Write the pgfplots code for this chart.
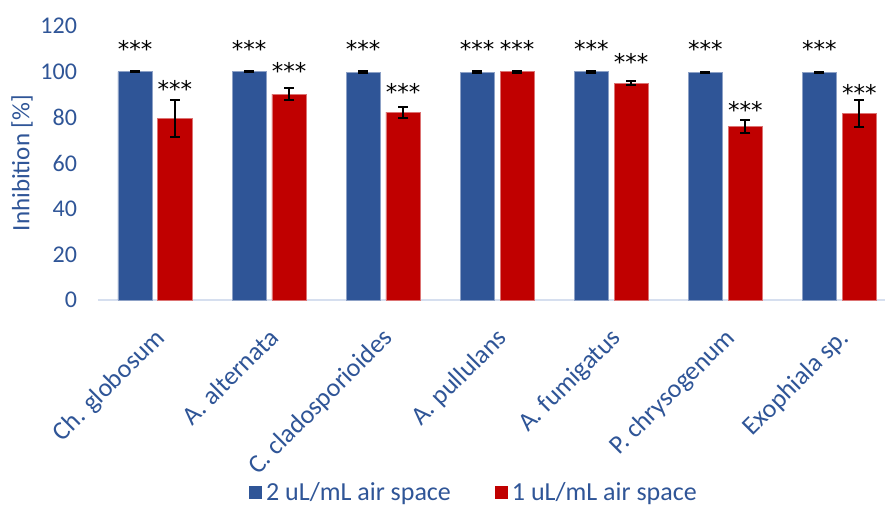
\documentclass[border=0pt]{standalone}
\usepackage{pgfplots}
\pgfplotsset{compat=1.18}
\usepackage{fontspec}
\setmainfont{Carlito}
\newfontfamily\starfont{DejaVu Sans}
\definecolor{myblue}{HTML}{2F5597}
\definecolor{myred}{HTML}{C00000}
\definecolor{axline}{HTML}{D6DFEF}
\begin{document}
\begin{tikzpicture}
\begin{axis}[
  name=ax,
  scale only axis,
  width=393.5pt, height=137pt,
  xmin=-0.5, xmax=6.4,
  ymin=0, ymax=120,
  ytick={0,20,...,120},
  xtick={0,...,6},
  xticklabels={Ch. globosum, A. alternata, C. cladosporioides, A. pullulans, A. fumigatus, P. chrysogenum, Exophiala sp.},
  xticklabel style={font=\fontsize{13}{13}\selectfont, text=myblue, inner sep=0pt, xshift=-1pt, yshift=-13pt, rotate=45, anchor=north east},
  yticklabel style={font=\fontsize{12}{12}\selectfont, text=myblue, xshift=-7pt},
  /pgf/number format/assume math mode=true,
  major tick length=0pt,
  axis x line*=bottom, axis y line*=left,
  y axis line style={draw=none},
  x axis line style={draw=axline, line width=1pt},
  ylabel={Inhibition [\%]},
  every axis y label/.style={at={(axis description cs:0,0.5)}, xshift=-38pt, rotate=90, anchor=center, font=\fontsize{12.5}{12.5}\selectfont, text=myblue},
  clip=false,
  legend columns=2,
  legend style={at={(axis description cs:0.479,-0.704)}, anchor=center, draw=none, fill=none, font=\fontsize{13}{13}\selectfont, text=myblue, /tikz/every even column/.append style={column sep=20pt}},
  legend image code/.code={\fill[#1,draw=none] (0pt,-3.2pt) rectangle (6.5pt,3.3pt);},
]
\addplot[ybar, bar width=0.3, bar shift=0pt, fill=myblue, draw=myblue!55!white, line width=0.4pt,
  error bars/.cd, y dir=both, y explicit,
  error bar style={black, line width=1pt},
  error mark options={rotate=90, mark size=2.5pt, line width=1pt, black}]
  table[x=x, y=y, y error=e] {
x y e
-0.175 100 0.3
0.825 100 0.3
1.825 99.8 0.3
2.825 99.8 0.3
3.825 99.9 0.3
4.825 99.5 0.3
5.825 99.6 0.3
};
\addlegendentry{2 uL/mL air space}
\addplot[ybar, bar width=0.3, bar shift=0pt, fill=myred, draw=myred!55!white, line width=0.4pt,
  error bars/.cd, y dir=both, y explicit,
  error bar style={black, line width=1pt},
  error mark options={rotate=90, mark size=2.5pt, line width=1pt, black}]
  table[x=x, y=y, y error=e] {
x y e
0.175 79.5 8.2
1.175 90.2 2.6
2.175 82.3 2.4
3.175 99.9 0.3
4.175 95.0 1.0
5.175 76.0 2.8
6.175 81.6 6.0
};
\addlegendentry{1 uL/mL air space}
\addplot[draw=none, mark=none, forget plot, nodes near coords={***},
  every node near coord/.append style={anchor=center, black, font=\starfont\fontsize{11.5}{11.5}\selectfont, inner sep=0pt}]
  table[x=x, y=y] {
x y
-0.175 109.8
0.825 109.8
1.825 109.8
2.825 109.8
3.825 109.8
4.825 109.8
5.825 109.8
0.175 92.3
1.175 100.2
2.175 91.3
3.175 109.8
4.175 104.3
5.175 83.3
6.175 90.8
};
\end{axis}
\pgfresetboundingbox
\path[use as bounding box] ([xshift=-49pt,yshift=-103pt]ax.south west) rectangle ([xshift=393.5pt,yshift=150pt]ax.south west);
\end{tikzpicture}
\end{document}
